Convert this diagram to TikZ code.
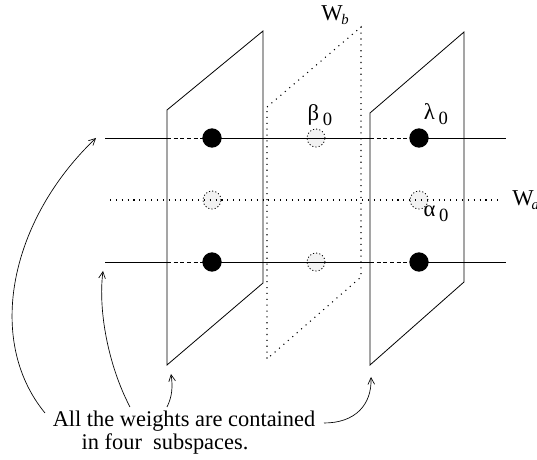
\documentclass[tikz,border=0pt]{standalone}
\usepackage{fontspec}
\setmainfont{Liberation Serif}
\usetikzlibrary{arrows.meta}
\begin{document}
\begin{tikzpicture}[x=0.75pt,y=-0.75pt,
  plane/.style={line width=0.6pt},
  dotline/.style={line width=0.8pt,dash pattern=on 0.8pt off 3.6pt},
  dashline/.style={line width=0.6pt,dash pattern=on 3pt off 2pt},
  solidline/.style={line width=0.6pt},
  bdot/.style={circle,fill=black,minimum size=14.5pt,inner sep=0pt},
  gdot/.style={circle,fill=black!5,draw=black,line width=0.6pt,dash pattern=on 0.8pt off 1.6pt,minimum size=13.5pt,inner sep=0pt},
  arr/.style={line width=0.5pt,-{Straight Barb[length=5pt,width=5pt]}},
  lbl/.style={inner sep=0pt,font=\fontsize{17}{19}\selectfont},
  txt/.style={inner sep=0pt,font=\fontsize{16.8}{19}\selectfont}]
\useasboundingbox (0,0) rectangle (537,460);
% middle dotted plane W_b
\draw[dotline] (267,107) -- (361,27) -- (361,277) -- (267,359) -- cycle;
% left plane
\draw[plane] (167,110) -- (263,31) -- (263,283) -- (167,365) -- cycle;
% right plane
\draw[plane] (370,113) -- (464,32) -- (464,282) -- (370,365) -- cycle;
% gray dotted dots
\node[gdot] (g1) at (212,200) {};
\node[gdot] (g2) at (419,200) {};
\node[gdot] (g3) at (316,138) {};
\node[gdot] (g4) at (316,262) {};
% coordinates for lines
\coordinate (t0) at (105,138); \coordinate (t1) at (167,138);
\coordinate (t2) at (370,138); \coordinate (t3) at (506,138);
\coordinate (m0) at (110,200); \coordinate (m1) at (502,200);
\coordinate (u0) at (105,262); \coordinate (u1) at (167,262);
\coordinate (u2) at (370,262); \coordinate (u3) at (506,262);
% black dots (positions)
\coordinate (p1) at (212,138); \coordinate (p2) at (419,138);
\coordinate (p3) at (212,262); \coordinate (p4) at (419,262);
% top line
\draw[solidline] (t0) -- (t1);
\draw[dashline] (t1) -- (p1);
\draw[solidline] (p1) -- (t2);
\draw[dashline] (t2) -- (p2);
\draw[solidline] (p2) -- (t3);
% middle dotted line
\draw[dotline] (m0) -- (m1);
% bottom line
\draw[solidline] (u0) -- (u1);
\draw[dashline] (u1) -- (p3);
\draw[solidline] (p3) -- (u2);
\draw[dashline] (u2) -- (p4);
\draw[solidline] (p4) -- (u3);
% black dots
\node[bdot] (d1) at (p1) {};
\node[bdot] (d2) at (p2) {};
\node[bdot] (d3) at (p3) {};
\node[bdot] (d4) at (p4) {};
% labels
\node[lbl] (lb) at (320,115) {β\,\raisebox{-4pt}{\fontsize{14}{15}\selectfont 0}};
\node[lbl] (ll) at (436,114) {λ\,\raisebox{-4pt}{\fontsize{14}{15}\selectfont 0}};
\node[lbl] (la) at (436,214) {α\,\raisebox{-4pt}{\fontsize{14}{15}\selectfont 0}};
\node[lbl,anchor=west] (wb) at (321,15) {W\kern-1pt\raisebox{-3pt}{\fontsize{11}{12}\selectfont\itshape b}};
\node[lbl,anchor=west] (wa) at (512,200) {W\kern-1.5pt\raisebox{-3pt}{\fontsize{11}{12}\selectfont\itshape a}};
% text
\node[txt] (x1) at (184,421) {All the weights are contained};
\node[txt] (x2) at (165,444) {in four\ \ subspaces.};
% arrows
\coordinate (a1s) at (45,413); \coordinate (a1e) at (96,138);
\coordinate (a2s) at (130,407); \coordinate (a2e) at (103,271);
\coordinate (a3s) at (167,407); \coordinate (a3e) at (171,374);
\coordinate (a4s) at (324,423); \coordinate (a4e) at (371,377);
\draw[arr] (a1s) .. controls (-15,340) and (10,220) .. (a1e);
\draw[arr] (a2s) .. controls (108,365) and (98,310) .. (a2e);
\draw[arr] (a3s) .. controls (172,397) and (173,387) .. (a3e);
\draw[arr] (a4s) .. controls (355,423) and (372,405) .. (a4e);
\end{tikzpicture}
\end{document}
